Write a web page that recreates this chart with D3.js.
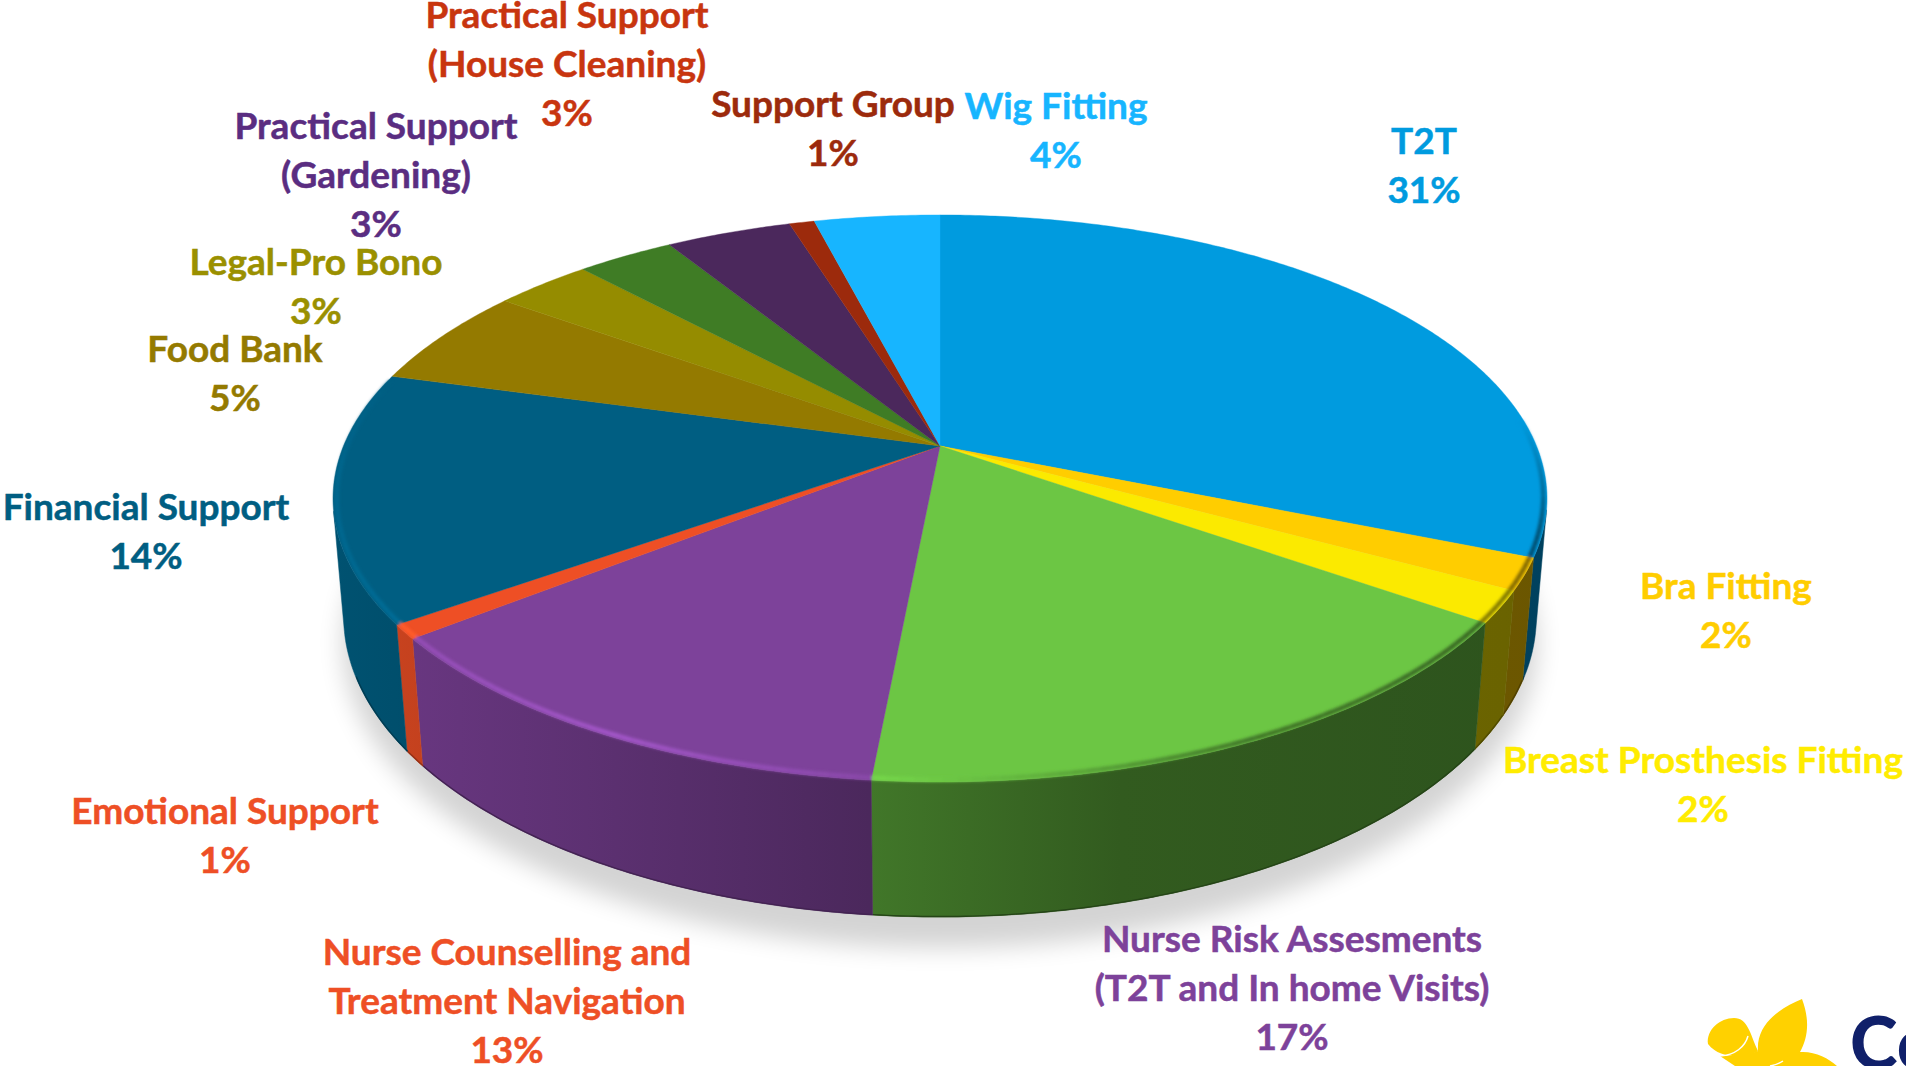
<!DOCTYPE html>
<html><head><meta charset="utf-8">
<style>html,body{margin:0;padding:0;background:#fff;overflow:hidden}svg{display:block}</style>
<script src="https://cdn.jsdelivr.net/npm/d3@7/dist/d3.min.js"></script>
</head><body><svg id="c" width="1906" height="1066"></svg>
<script>
// ---------- data ----------
const categories = ["T2T","Bra Fitting","Breast Prosthesis Fitting","Nurse Risk Assesments (T2T and In home Visits)","Nurse Counselling and Treatment Navigation","Emotional Support","Financial Support","Food Bank","Legal-Pro Bono","Practical Support (House Cleaning)","Practical Support (Gardening)","Support Group","Wig Fitting"];
const sliceValues = [31.2,1.8,1.8,16.7,12.8,0.8,14.2,5.7,3.1,3.1,4.0,0.8,4.0];
const percentLabels = ["31%","2%","2%","17%","13%","1%","14%","5%","3%","3%","3%","1%","4%"];
const labelLines = [["T2T"],["Bra Fitting"],["Breast Prosthesis Fitting"],["Nurse Risk Assesments","(T2T and In home Visits)"],["Nurse Counselling and","Treatment Navigation"],["Emotional Support"],["Financial Support"],["Food Bank"],["Legal-Pro Bono"],["Practical Support","(House Cleaning)"],["Practical Support","(Gardening)"],["Support Group"],["Wig Fitting"]];
// ---------- style / layout ----------
const sliceColors = ["#009bdf","#ffcd00","#fbea00","#6cc644","#7d429a","#ee4f25","#005e82","#947a00","#958c00","#3f7c25","#4b285c","#9c2a0c","#17b5ff"];
const labelColors = ["#009bdf","#ffcd00","#ffec00","#7d429a","#ee4f25","#ee4f25","#005e82","#947a00","#9a9000","#c8350f","#5a2d81","#9c2a0c","#17b5ff"];
const labelAnchor = [[1424,154],[1726,599],[1703,773],[1292,952],[507,965],[225,824],[146,520],[235,362],[316,275],[567,28],[376,139],[833,117],[1056,119]];
const lineStep = 48.8, fontSize = 37;

const W=1906,H=1066, cx=940, cy=446, A=596.5, B=273.8, k=0.185, m=0.01726, C=-118.2;
const svg=d3.select("#c");
const defs=svg.append("defs");
[["b1",1.6],["sh",12]].forEach(([id,s])=>defs.append("filter").attr("id",id)
  .attr("x","-20%").attr("y","-20%").attr("width","140%").attr("height","140%")
  .append("feGaussianBlur").attr("stdDeviation",s));

// perspective projection of the disc: angle a (clockwise from top), radius r, depth h
function proj(a,r=1,h=0){const u=r*Math.sin(a),v=r*Math.cos(a),s=1+k*v+m*h;
  return [cx+A*u/s, cy-(B*v+C*h)/s];}
const pie=d3.pie().sort(null).value(d=>d)(sliceValues);
const line=d3.line();
const arcPts=(a0,a1,r,h)=>{const n=Math.max(2,Math.ceil((a1-a0)/0.01));return d3.range(n+1).map(i=>proj(a0+(a1-a0)*i/n,r,h));};
const shade=d3.scaleLinear().domain([332,870,1120,1546]).range([0.87,0.6,0.46,0.42]).clamp(true);
const rimLight=d3.scaleLinear().domain([332,450,620,870,1000,1250,1546]).range([1.1,1.2,1.3,1.1,0.95,0.6,0.5]).clamp(true);
const mix=(c,f)=>{const q=d3.rgb(c);return d3.rgb(Math.min(255,q.r*f),Math.min(255,q.g*f),Math.min(255,q.b*f))+"";};

// front-facing range of the wall (outline tangents)
const faceArea=a=>{const da=.005,p=[proj(a,1,0),proj(a+da,1,0),proj(a+da,1,1),proj(a,1,1)];return d3.polygonArea(p);};
const frontSign=Math.sign(faceArea(Math.PI));
const grid=d3.range(0,2*Math.PI,.002).filter(a=>Math.sign(faceArea(a))===frontSign);
const wallLo=d3.min(grid), wallHi=d3.max(grid);

// ground shadow
svg.append("path").attr("d",line(arcPts(0,2*Math.PI,1.005,1.22))+"Z")
  .attr("fill","#000").attr("opacity",.17).attr("filter","url(#sh)");

// walls: one polygon per slice, shaded left-to-right
const walls=svg.append("g");
pie.forEach((d,i)=>{
  const lo=Math.max(d.startAngle,wallLo), hi=Math.min(d.endAngle,wallHi);
  if(hi<=lo) return;
  const gid="w"+i;
  const g=defs.append("linearGradient").attr("id",gid).attr("gradientUnits","userSpaceOnUse")
    .attr("x1",332).attr("x2",1546).attr("y1",0).attr("y2",0);
  shade.domain().forEach((x,j)=>g.append("stop")
    .attr("offset",(x-332)/(1546-332)).attr("stop-color",mix(sliceColors[i],shade.range()[j])));
  const pts=[...arcPts(lo,hi,1,0),...arcPts(lo,hi,1,1).reverse()];
  walls.append("path").attr("d",line(pts)+"Z").attr("fill",`url(#${gid})`).attr("stroke",`url(#${gid})`).attr("stroke-width",.5);
  const bl=Math.max(lo,Math.PI*0.62), bh=Math.min(hi,Math.PI*1.38);
  if(bh>bl) walls.append("path").attr("d",line(arcPts(bl,bh,0.999,1))).attr("fill","none")
    .attr("stroke",mix(sliceColors[i],shade((proj(bl,1,1)[0]+proj(bh,1,1)[0])/2)*0.75)).attr("stroke-width",1.4);
});

// top surface
const topPath=d=>line([[cx,cy],...arcPts(d.startAngle,d.endAngle,1,0)])+"Z";
svg.append("g").selectAll("path").data(pie).join("path")
  .attr("d",topPath).attr("fill",(d,i)=>sliceColors[i]).attr("stroke",(d,i)=>sliceColors[i]).attr("stroke-width",.4);

// soft bevel along the front rim, fading out at both ends
const rimFade=d3.scaleLinear().domain([Math.PI*0.47,Math.PI*0.6,Math.PI*1.45,Math.PI*1.58]).range([0,1,1,0]).clamp(true);
const rim=svg.append("g").attr("filter","url(#b1)");
pie.forEach((d,i)=>{
  const lo=Math.max(d.startAngle,Math.PI*0.47), hi=Math.min(d.endAngle,Math.PI*1.58);
  if(hi<=lo) return;
  const n=Math.max(1,Math.ceil((hi-lo)/0.02));
  d3.range(n).forEach(j=>{
    const a0=lo+(hi-lo)*j/n,a1=lo+(hi-lo)*(j+1)/n,p=arcPts(a0,a1,0.994,0);
    const f=1+(rimLight(p[0][0])-1)*rimFade((a0+a1)/2);
    rim.append("path").attr("d",line(p)).attr("fill","none")
      .attr("stroke",mix(sliceColors[i],f)).attr("stroke-width",4.5);
  });
});

// labels
const lab=svg.append("g").attr("font-family","Lato, Carlito, 'Noto Sans', sans-serif").attr("font-weight",700)
  .attr("font-size",fontSize).attr("text-anchor","middle");
categories.forEach((c,i)=>{
  const g=lab.append("text").attr("fill",labelColors[i]).attr("stroke",labelColors[i]).attr("stroke-width",.5);
  [...labelLines[i],percentLabels[i]].forEach((t,j)=>
    g.append("tspan").attr("x",labelAnchor[i][0]).attr("y",labelAnchor[i][1]+j*lineStep).text(t));
});

// logo (cropped at the page corner)
const logo=svg.append("g");
logo.append("g").attr("fill","#ffd100").selectAll("path").data([
 "M1708,1044C1706,1030 1720,1018 1734,1018C1748,1018 1750,1034 1758,1051C1752,1056 1722,1062 1708,1044Z",
 "M1758,1051C1756,1024 1780,1008 1802,999C1810,1020 1808,1038 1800,1052C1815,1051 1828,1058 1837,1066L1735,1066L1720,1056C1735,1056 1752,1054 1758,1051Z"
]).join("path").attr("d",d=>d);
logo.append("path").attr("d","M1720,1056C1735,1055 1745,1047 1748,1036").attr("fill","none").attr("stroke","#fff").attr("stroke-width",1.5);
logo.append("path").attr("d","M1770,1066C1775,1065 1780,1063 1783,1061").attr("fill","none").attr("stroke","#fff").attr("stroke-width",1.5);
logo.append("text").attr("x",1850).attr("y",1069).attr("font-family","Lato, Carlito, sans-serif").attr("font-weight",900)
  .attr("font-size",72).attr("fill","#10206a").text("Co");
</script></body></html>
